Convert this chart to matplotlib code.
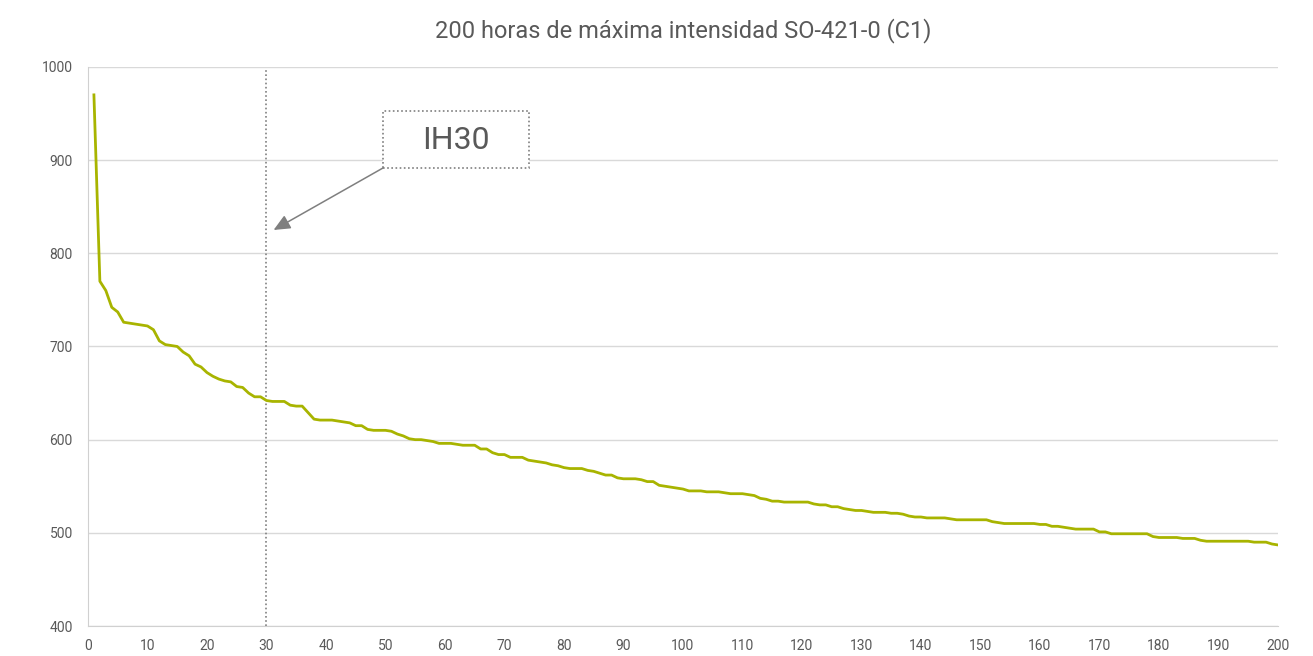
import matplotlib
matplotlib.use("Agg")
import matplotlib.pyplot as plt
from matplotlib.patches import Rectangle

plt.rcParams["font.family"] = ["Roboto", "DejaVu Sans"]

title = "200 horas de máxima intensidad SO-421-0 (C1)"
hours = list(range(1, 201))
intensity = [
    970, 770, 760, 742, 737, 726, 725, 724, 723, 722,
    718, 706, 702, 701, 700, 694, 690, 681, 678, 672,
    668, 665, 663, 662, 657, 656, 650, 646, 646, 642,
    641, 641, 641, 637, 636, 636, 629, 622, 621, 621,
    621, 620, 619, 618, 615, 615, 611, 610, 610, 610,
    609, 606, 604, 601, 600, 600, 599, 598, 596, 596,
    596, 595, 594, 594, 594, 590, 590, 586, 584, 584,
    581, 581, 581, 578, 577, 576, 575, 573, 572, 570,
    569, 569, 569, 567, 566, 564, 562, 562, 559, 558,
    558, 558, 557, 555, 555, 551, 550, 549, 548, 547,
    545, 545, 545, 544, 544, 544, 543, 542, 542, 542,
    541, 540, 537, 536, 534, 534, 533, 533, 533, 533,
    533, 531, 530, 530, 528, 528, 526, 525, 524, 524,
    523, 522, 522, 522, 521, 521, 520, 518, 517, 517,
    516, 516, 516, 516, 515, 514, 514, 514, 514, 514,
    514, 512, 511, 510, 510, 510, 510, 510, 510, 509,
    509, 507, 507, 506, 505, 504, 504, 504, 504, 501,
    501, 499, 499, 499, 499, 499, 499, 499, 496, 495,
    495, 495, 495, 494, 494, 494, 492, 491, 491, 491,
    491, 491, 491, 491, 491, 490, 490, 490, 488, 487,
]
ih_hour = 30
ih_label = "IH30"

grey = "#595959"
fig = plt.figure(figsize=(13.13, 6.56), dpi=100)
ax = fig.add_axes([0.067, 0.0457, 0.9063, 0.8523])

ax.plot(hours, intensity, color="#a8b400", linewidth=2.0, zorder=3)
ax.axvline(ih_hour, ymax=0.998, color="#808080", linestyle=(0, (1, 1.5)),
           linewidth=1.2, zorder=2)

ax.set_xlim(0, 200)
ax.set_ylim(400, 1000)
ax.set_xticks(range(0, 201, 10))
ax.set_yticks(range(400, 1001, 100))
ax.tick_params(length=0, labelsize=10, colors=grey)
ax.tick_params(axis="y", pad=11)
ax.tick_params(axis="x", pad=9)
ax.grid(axis="y", color="#d9d9d9", linewidth=1)
ax.set_axisbelow(True)
for side in ("top", "right"):
    ax.spines[side].set_visible(False)
for side in ("left", "bottom"):
    ax.spines[side].set_color("#d0d0d0")

ax.set_title(title, fontsize=17, color=grey, pad=21)

# callout box with arrow pointing at the IH30 line
ax.annotate("", xy=(31.2, 825), xytext=(49.6, 891.6),
            arrowprops=dict(arrowstyle="-|>,head_length=1.0,head_width=0.45",
                            color="#7f7f7f", lw=1.1, shrinkA=0, shrinkB=0))
ax.add_patch(Rectangle((49.6, 891.6), 24.6, 61.2, fc="white", ec="#7f7f7f",
                       ls=(0, (1, 1.5)), lw=1.2, zorder=4))
ax.text(61.9, 921, ih_label, fontsize=23, color=grey, ha="center", va="center",
        zorder=5)

fig.savefig("out.png", dpi=100)
